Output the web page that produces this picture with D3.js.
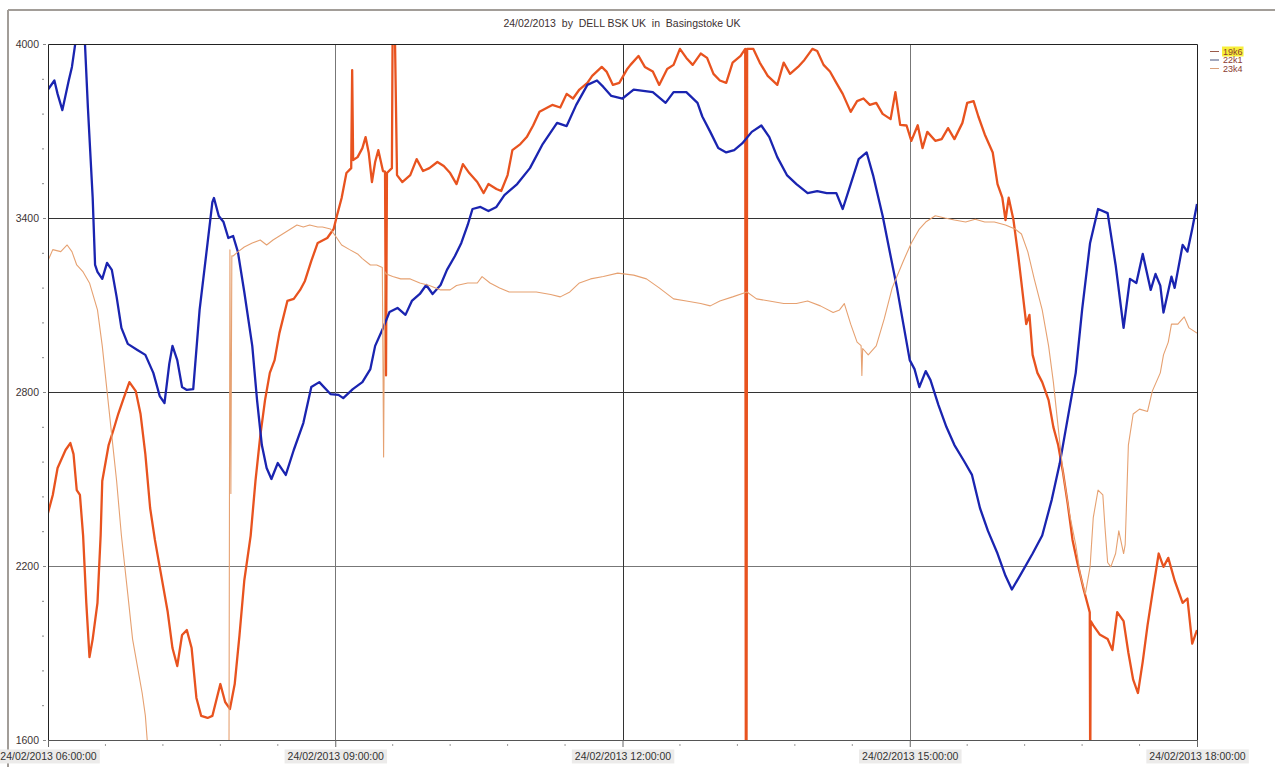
<!DOCTYPE html>
<html>
<head>
<meta charset="utf-8">
<script src="https://cdn.jsdelivr.net/npm/d3@7"></script>
<style>
  body { margin: 0; background: #fff; }
  svg { display: block; font-family: Arial, "Liberation Sans", sans-serif; }
</style>
</head>
<body>
<svg width="1275" height="767"></svg>
<script>
// readings: [minutes after 06:00, value]
let s19k6 = [[0,2383],[3,2445],[6,2538],[11,2600],[14,2624],[16,2586],[18,2462],[20,2445],[22,2305],[24,2073],[26,1886],[28,1948],[31,2073],[33,2307],[34,2493],[38,2617],[41,2669],[44,2724],[47,2772],[51,2834],[55,2803],[58,2724],[61,2586],[64,2400],[67,2290],[70,2197],[75,2042],[78,1917],[81,1855],[84,1962],[87,1979],[90,1917],[93,1745],[96,1683],[100,1676],[103,1683],[108,1793],[111,1731],[114,1707],[117,1793],[120,1962],[123,2150],[127,2305],[130,2493],[133,2648],[136,2772],[139,2866],[142,2910],[145,3003],[150,3114],[154,3121],[158,3152],[161,3183],[165,3252],[169,3314],[175,3331],[179,3362],[181,3407],[184,3469],[187,3555],[190,3572],[190.6,3910],[191.2,3600],[194,3610],[197,3641],[199,3679],[201,3624],[203,3524],[205,3593],[207,3634],[209.9,3562],[211.2,3560],[211.8,2857],[212.4,3555],[215.5,3572],[216,4100],[217.2,4100],[218.7,3548],[222,3524],[227,3548],[231,3603],[235,3562],[239,3572],[244,3593],[248,3579],[252,3555],[256,3517],[260,3586],[264,3555],[269,3524],[273,3486],[276,3517],[281,3500],[284,3493],[288,3548],[291,3634],[296,3655],[300,3679],[304,3719],[308,3766],[313,3781],[316,3790],[321,3781],[325,3828],[329,3812],[333,3843],[338,3866],[341,3890],[347,3921],[350,3905],[354,3859],[358,3866],[363,3914],[365,3928],[370,3959],[374,3921],[379,3905],[383,3859],[388,3914],[392,3928],[396,3983],[400,3952],[404,3928],[409,3967],[413,3952],[417,3897],[421,3874],[425,3866],[429,3936],[434,3959],[436.9,3983],[437.3,1400],[437.7,1400],[438.1,3983],[442,3983],[446,3936],[451,3890],[457,3859],[461,3936],[465,3897],[470,3921],[474,3945],[479,3983],[482,3976],[486,3928],[490,3905],[494,3866],[498,3828],[503,3766],[507,3803],[511,3812],[515,3790],[519,3797],[523,3759],[528,3741],[531,3834],[534,3721],[538,3719],[541,3666],[545,3720],[548,3641],[551,3697],[556,3666],[560,3672],[564,3710],[568,3672],[573,3728],[576,3797],[580,3803],[583,3750],[587,3688],[592,3626],[595,3517],[598,3470],[600,3393],[602,3470],[605,3393],[608,3269],[610,3176],[613,3034],[615,3066],[617,2928],[620,2866],[623,2834],[627,2772],[630,2679],[633,2617],[636,2524],[639,2414],[642,2290],[645,2212],[649,2119],[652,2057],[652.8,2040],[653.1,1450],[653.4,2010],[655,1995],[659,1964],[664,1948],[667,1910],[670,2041],[674,2010],[677,1901],[680,1808],[683,1762],[686,1870],[689,1995],[692,2103],[696,2243],[699,2197],[702,2228],[706,2150],[711,2073],[714,2088],[717,1932],[720,1979]];

let s22k1 = [[0,3843],[4,3874],[6,3828],[9,3772],[13,3874],[15,3921],[17,3998],[20,4120],[23,4020],[25,3781],[28,3470],[29.5,3238],[31,3214],[34,3190],[37,3245],[40,3221],[43,3128],[46,3021],[50,2966],[56,2945],[61,2928],[66,2866],[70,2786],[73,2762],[76,2897],[78,2959],[81,2910],[84,2817],[87,2807],[91,2810],[95,3083],[100,3314],[103,3455],[104,3469],[107,3407],[110,3386],[113,3331],[116,3338],[119,3283],[123,3145],[128,2959],[131,2772],[134,2617],[137,2538],[140,2500],[144,2555],[149,2514],[154,2600],[160,2693],[165,2817],[170,2834],[177,2793],[182,2790],[185,2779],[191,2810],[197,2834],[202,2879],[205,2959],[210,3021],[214,3076],[219,3090],[224,3066],[228,3114],[233,3138],[237,3169],[241,3138],[246,3169],[250,3221],[255,3269],[259,3314],[263,3376],[266,3431],[271,3438],[276,3424],[281,3438],[286,3479],[294,3517],[302,3572],[310,3655],[319,3728],[325,3717],[331,3790],[338,3859],[344,3874],[348,3852],[353,3821],[360,3812],[365,3834],[367,3843],[379,3834],[387,3797],[392,3834],[400,3834],[407,3797],[410,3750],[415,3697],[420,3641],[425,3626],[430,3634],[435,3657],[441,3697],[447,3719],[452,3679],[457,3610],[463,3548],[469,3517],[476,3486],[482,3493],[488,3486],[494,3486],[498,3431],[503,3517],[508,3603],[513,3626],[517,3548],[523,3408],[528,3269],[532,3159],[536,3034],[540,2910],[543,2879],[546,2817],[550,2872],[553,2841],[558,2755],[563,2679],[568,2617],[574,2562],[579,2514],[584,2400],[589,2321],[595,2243],[600,2166],[604,2119],[609,2166],[617,2243],[623,2305],[629,2429],[634,2554],[639,2710],[644,2866],[648,3083],[653,3314],[658,3431],[664,3417],[669,3238],[674,3021],[678,3190],[682,3176],[686,3276],[691,3152],[694,3207],[697,3167],[699,3074],[704,3198],[706,3159],[711,3307],[714,3284],[717,3362],[720,3448]];

let s23k4 = [[0,3253],[3,3291],[8,3284],[12,3307],[15,3284],[18,3238],[22,3214],[26,3176],[31,3083],[34,2959],[37,2803],[40,2648],[43,2493],[46,2305],[50,2103],[53,1948],[56,1855],[59,1762],[61,1684],[63,1540],[88,1500],[113.4,1500],[114,3290],[114.6,2450],[115.2,3270],[116,3269],[119,3283],[123,3300],[128,3314],[133,3324],[137,3307],[141,3324],[145,3338],[150,3355],[156,3376],[160,3369],[164,3376],[169,3369],[172,3369],[177,3362],[181,3331],[184,3307],[189,3291],[194,3276],[197,3260],[202,3238],[206,3238],[209.5,3229],[210.3,2576],[211,3215],[212,3207],[216,3198],[221,3190],[227,3190],[233,3176],[239,3167],[246,3152],[252,3152],[256,3167],[263,3176],[269,3176],[272,3198],[277,3176],[283,3159],[289,3145],[298,3145],[306,3145],[315,3136],[321,3128],[327,3145],[333,3176],[340,3190],[348,3198],[357,3210],[367,3203],[375,3190],[383,3159],[392,3121],[400,3114],[409,3105],[415,3097],[421,3114],[429,3128],[438,3145],[444,3121],[452,3114],[461,3105],[469,3105],[476,3114],[484,3097],[492,3074],[496,3083],[499,3105],[503,3034],[507,2972],[509.5,2960],[510,2857],[510.5,2950],[514,2928],[519,2959],[524,3052],[529,3159],[536,3252],[541,3314],[546,3362],[550,3386],[556,3408],[562,3400],[568,3393],[575,3386],[581,3396],[587,3386],[593,3386],[600,3376],[606,3362],[610,3345],[614,3283],[618,3190],[623,3083],[627,2959],[630,2834],[633,2679],[636,2524],[640,2383],[644,2274],[647,2166],[650,2103],[653,2197],[655,2367],[658,2462],[661,2445],[662.3,2336],[664,2212],[666,2197],[669,2243],[671,2321],[674,2243],[675,2274],[677,2617],[680,2724],[684,2741],[689,2733],[692,2803],[697,2866],[699,2928],[702,2972],[704,3034],[708,3034],[712,3059],[715,3021],[720,3003]];

let seriesNames = ["19k6", "22k1", "23k4"];
let seriesColors = ["#e8531f", "#1a24b0", "#e6a171"];
let legendColors = ["#9a5a4a", "#45507a", "#d9a07a"];
let yMajorTicks = [1600, 2200, 2800, 3400, 4000];
let xMajorHours = [6, 9, 12, 15, 18];
let chartTitle = "24/02/2013  by  DELL BSK UK  in  Basingstoke UK";

let svg = d3.select("svg");
let margin = { top: 44, right: 78, bottom: 27, left: 48 };
let plotWidth = 1275 - margin.left - margin.right;
let plotHeight = 767 - margin.top - margin.bottom;

let t0 = new Date(2013, 1, 24, 6, 0, 0);
let toDate = function(m) { return new Date(t0.getTime() + m * 60000); };

let x = d3.scaleTime()
  .domain([toDate(0), toDate(720)])
  .range([0, plotWidth]);
let y = d3.scaleLinear()
  .domain([1600, 4000])
  .range([plotHeight, 0]);

// outer frame (only top and left edges show)
svg.append("line").attr("x1", 8).attr("x2", 1275).attr("y1", 10).attr("y2", 10)
  .attr("stroke", "#a29d98").attr("stroke-width", 2);
svg.append("line").attr("x1", 8).attr("x2", 8).attr("y1", 10).attr("y2", 767)
  .attr("stroke", "#a29d98").attr("stroke-width", 2);

svg.append("text")
  .attr("x", 622).attr("y", 27)
  .attr("text-anchor", "middle")
  .style("white-space", "pre")
  .attr("font-size", "10.5px")
  .attr("fill", "#3c3030")
  .text(chartTitle);

let plot = svg.append("g")
  .attr("transform", "translate(" + margin.left + "," + margin.top + ")");

svg.append("defs").append("clipPath").attr("id", "clip")
  .append("rect").attr("width", plotWidth).attr("height", plotHeight);

// grid lines
plot.selectAll("line.hgrid")
  .data(yMajorTicks.slice(1, -1))
  .enter().append("line")
  .attr("class", "hgrid")
  .attr("x1", 0).attr("x2", plotWidth)
  .attr("y1", d => y(d) + 0.5).attr("y2", d => y(d) + 0.5)
  .attr("stroke", d => d == 2200 ? "#777" : "#333").attr("stroke-width", 1);

plot.selectAll("line.vgrid")
  .data(xMajorHours.slice(1, -1))
  .enter().append("line")
  .attr("class", "vgrid")
  .attr("x1", d => Math.round(x(toDate((d - 6) * 60))) + 0.5)
  .attr("x2", d => Math.round(x(toDate((d - 6) * 60))) + 0.5)
  .attr("y1", 0).attr("y2", plotHeight)
  .attr("stroke", d => d == 12 ? "#333" : "#777").attr("stroke-width", 1);

// series lines
let line = d3.line()
  .x(d => x(toDate(d[0])))
  .y(d => y(d[1]));

let lines = plot.append("g").attr("clip-path", "url(#clip)");
[s19k6, s22k1, s23k4].forEach(function(s, i) {
  lines.append("path")
    .datum(s)
    .attr("fill", "none")
    .attr("stroke", seriesColors[i])
    .attr("stroke-width", i == 2 ? 1.1 : 2.3)
    .attr("stroke-linejoin", "round")
    .attr("d", line);
});

// plot border
plot.append("path")
  .attr("d", "M0.5," + (plotHeight + 0.5) + "V0.5H" + (plotWidth + 0.5) + "V" + (plotHeight + 0.5))
  .attr("fill", "none").attr("stroke", "#222");
plot.append("line")
  .attr("x1", 0).attr("x2", plotWidth + 1)
  .attr("y1", plotHeight + 0.5).attr("y2", plotHeight + 0.5)
  .attr("stroke", "#555");

// y axis
let yAxis = d3.axisLeft(y).tickValues(yMajorTicks).tickFormat(d3.format("d"))
  .tickSize(3).tickPadding(4);
let yGroup = plot.append("g").attr("transform", "translate(-2,0)").call(yAxis);
yGroup.select(".domain").remove();
yGroup.selectAll("line").attr("stroke", "#888");
yGroup.selectAll("text").attr("font-size", "10.5px").attr("fill", "#3c3434")
  .attr("font-family", "Arial, 'Liberation Sans', sans-serif");

let yMinor = d3.range(1600, 4001, 120).filter(v => yMajorTicks.indexOf(v) < 0);
plot.selectAll("line.yminor")
  .data(yMinor)
  .enter().append("line")
  .attr("class", "yminor")
  .attr("x1", -6).attr("x2", -4)
  .attr("y1", d => y(d) + 0.5).attr("y2", d => y(d) + 0.5)
  .attr("stroke", "#888");

// x axis
let xMinor = d3.range(36, 720, 36).filter(m => m % 180 != 0);
plot.selectAll("line.xminor")
  .data(xMinor)
  .enter().append("line")
  .attr("class", "xminor")
  .attr("x1", d => x(toDate(d))).attr("x2", d => x(toDate(d)))
  .attr("y1", plotHeight + 4).attr("y2", plotHeight + 6)
  .attr("stroke", "#999");

let xAxis = d3.axisBottom(x)
  .tickValues(xMajorHours.map(h => toDate((h - 6) * 60)))
  .tickFormat(d3.timeFormat("%d/%m/%Y %H:%M:%S"))
  .tickSize(7).tickPadding(6);
let xGroup = plot.append("g").attr("transform", "translate(0," + plotHeight + ")").call(xAxis);
xGroup.select(".domain").remove();
xGroup.selectAll("line").attr("stroke", "#666");
xGroup.selectAll("text").attr("font-size", "10.5px").attr("fill", "#333")
  .attr("font-family", "Arial, 'Liberation Sans', sans-serif");
xGroup.selectAll(".tick").each(function() {
  let t = d3.select(this).select("text");
  let b = t.node().getBBox();
  d3.select(this).insert("rect", "text")
    .attr("x", b.x - 3).attr("y", b.y - 1)
    .attr("width", b.width + 6).attr("height", b.height + 2)
    .attr("fill", "#ecebea");
});

// legend
let legend = svg.append("g").attr("transform", "translate(1210,51)");
seriesNames.forEach(function(name, i) {
  let row = legend.append("g").attr("transform", "translate(0," + (i * 8.5) + ")");
  row.append("line").attr("x1", 0).attr("x2", 9).attr("y1", 0.5).attr("y2", 0.5)
    .attr("stroke", legendColors[i]);
  let t = row.append("text").attr("x", 13).attr("y", 3.5)
    .attr("font-size", "9px").attr("fill", "#8a3a30").text(name);
  if (i == 0) {
    let b = t.node().getBBox();
    row.insert("rect", "text").attr("x", b.x - 1).attr("y", b.y)
      .attr("width", b.width + 2).attr("height", b.height).attr("fill", "#f7ee3a");
  }
});
</script>
</body>
</html>
